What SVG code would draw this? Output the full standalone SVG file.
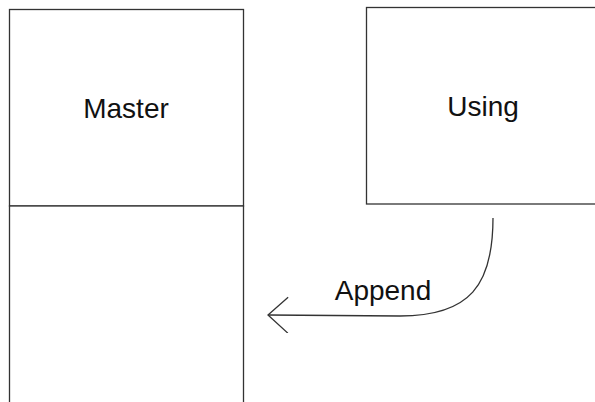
<svg xmlns="http://www.w3.org/2000/svg" width="595" height="402" viewBox="0 0 595 402">
<style>
.box{fill:#fff;stroke:#333;stroke-width:1.3}
.lbl{font-family:"Liberation Sans",Arial,sans-serif;font-size:28px;fill:#111;text-anchor:middle}
.conn{fill:none;stroke:#333;stroke-width:1.3}
</style>
<defs>
<marker id="arr" markerUnits="userSpaceOnUse" markerWidth="24" markerHeight="40" refX="21" refY="18" orient="auto" viewBox="0 0 24 40">
<path d="M1 0 L21 18 L1 36" fill="none" stroke="#333" stroke-width="1.3"/>
</marker>
</defs>
<rect width="595" height="402" fill="#fff"/>
<g id="master">
<rect class="box" x="9.5" y="9.5" width="234" height="196.5"/>
<text class="lbl" x="126" y="117.5">Master</text>
</g>
<g id="master-lower">
<rect class="box" x="9.5" y="206" width="234" height="210"/>
</g>
<g id="using">
<rect class="box" x="366.5" y="7.5" width="240" height="196.5"/>
<text class="lbl" x="483" y="115.5">Using</text>
</g>
<g id="connectors">
<path class="conn" d="M493 218 C493 285 470 316 400 316 L268 315" marker-end="url(#arr)"/>
<text class="lbl" x="383" y="300">Append</text>
</g>
</svg>
